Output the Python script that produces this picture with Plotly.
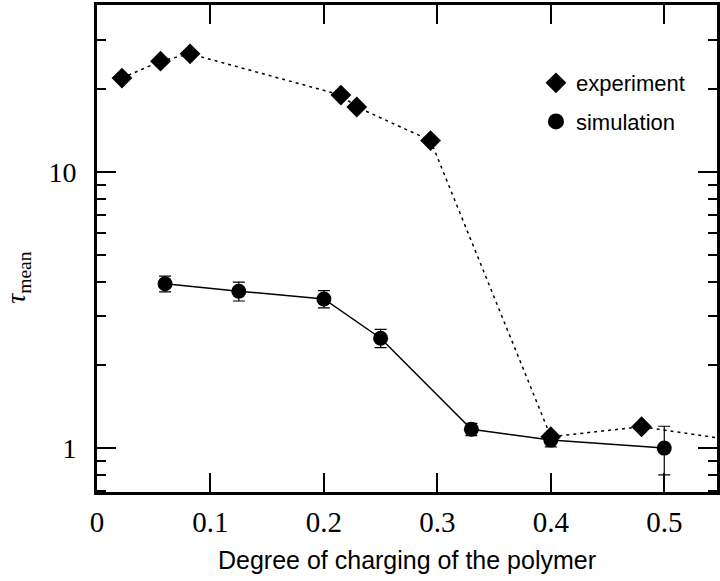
import plotly.graph_objects as go

# Experiment data (diamonds, dotted line)
exp_x = [0.022, 0.056, 0.082, 0.215, 0.229, 0.294, 0.40, 0.48, 0.56]
exp_y = [21.9, 25.2, 26.8, 19.0, 17.2, 13.0, 1.10, 1.195, 1.07]

# Simulation data (circles, solid line, error bars)
sim_x = [0.06, 0.125, 0.2, 0.25, 0.33, 0.4, 0.5]
sim_y = [3.94, 3.70, 3.47, 2.50, 1.17, 1.07, 1.0]
sim_err = [0.26, 0.29, 0.25, 0.19, 0.06, 0.06, 0.2]

x_ticks = [0, 0.1, 0.2, 0.3, 0.4, 0.5]
x_labels = ["0", "0.1", "0.2", "0.3", "0.4", "0.5"]
y_ticks = [1, 10]
y_labels = ["1", "10"]
y_minor = [0.7, 0.8, 0.9, 2, 3, 4, 5, 6, 7, 8, 9, 20, 30, 40]

fig = go.Figure()

fig.add_trace(go.Scatter(
    x=exp_x, y=exp_y, mode="lines+markers", showlegend=False,
    line=dict(color="black", width=1.5, dash="3px,4px"),
    marker=dict(symbol="diamond", size=16, color="black"),
    cliponaxis=True,
))
fig.add_trace(go.Scatter(
    x=sim_x, y=sim_y, mode="lines+markers", showlegend=False,
    line=dict(color="black", width=1.5),
    marker=dict(symbol="circle", size=15, color="black"),
    error_y=dict(type="data", array=sim_err, visible=True,
                 color="black", thickness=1.2, width=6),
))

# legend entries (markers only)
fig.add_trace(go.Scatter(
    x=[None], y=[None], mode="markers", name="experiment", legendgroup="a",
    marker=dict(symbol="diamond", size=16, color="black"),
))
fig.add_trace(go.Scatter(
    x=[None], y=[None], mode="markers", name="simulation", legendgroup="b",
    marker=dict(symbol="circle", size=16, color="black"),
))

serif = "Liberation Serif, DejaVu Serif, serif"
sans = "Liberation Sans, Arial, sans-serif"

fig.update_layout(
    width=720, height=581,
    margin=dict(l=97, r=0, t=5, b=89),
    paper_bgcolor="white", plot_bgcolor="white",
    showlegend=True,
    legend=dict(
        x=0.708, y=0.883, xanchor="left", yanchor="top",
        font=dict(family=sans, size=22, color="black"),
        bgcolor="rgba(0,0,0,0)", tracegroupgap=7,
        itemsizing="trace",
    ),
    xaxis=dict(
        range=[0, (720 - 97) / 1140],
        tickmode="array", tickvals=x_ticks, ticktext=x_labels,
        ticks="inside", ticklen=19, tickwidth=2, tickcolor="black",
        showline=True, linewidth=3, linecolor="black", mirror="ticks",
        showgrid=False, zeroline=False,
        tickfont=dict(family=serif, size=29, color="black"),
        ticklabelstandoff=2,
    ),
    yaxis=dict(
        type="log",
        range=[-0.159, 1.605],
        tickmode="array", tickvals=y_ticks, ticktext=y_labels,
        ticks="inside", ticklen=19, tickwidth=2, tickcolor="black",
        showline=True, linewidth=3, linecolor="black", mirror="ticks",
        showgrid=False, zeroline=False,
        tickfont=dict(family=serif, size=28, color="black"),
        ticklabelstandoff=12,
        minor=dict(tickvals=y_minor, ticks="inside", ticklen=9,
                   tickwidth=2, tickcolor="black", showgrid=False),
    ),
    annotations=[
        dict(text="Degree of charging of the polymer", xref="paper", yref="paper",
             x=0.5, y=-0.14, xanchor="center", yanchor="middle", showarrow=False,
             font=dict(family=sans, size=25, color="black")),
        dict(text="<i>τ</i><sub>mean</sub>", xref="paper", yref="paper",
             x=-0.128, y=0.441, xanchor="center", yanchor="middle", showarrow=False,
             textangle=-90,
             font=dict(family=serif, size=28, color="black")),
    ],
)

fig.write_html("out.html")
